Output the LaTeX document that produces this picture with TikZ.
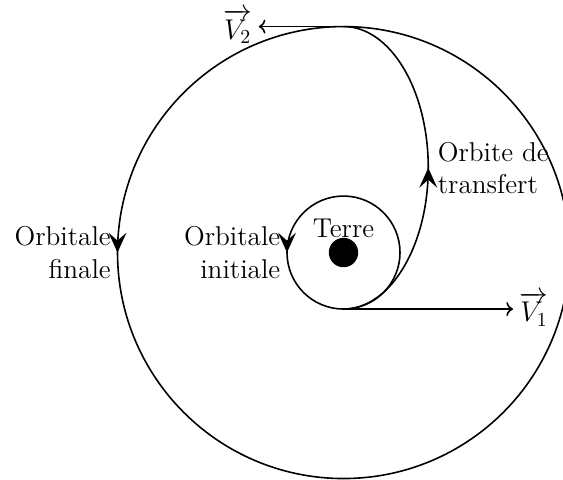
\documentclass[tikz,border=0pt]{standalone}
\usepackage{amsmath}
\usetikzlibrary{arrows.meta,decorations.markings,positioning}

\begin{document}
\begin{tikzpicture}[thick,
    orbite/.style={postaction={decorate},
      decoration={markings,mark=at position 0.5 with {\arrow{Stealth[length=10pt,width=9pt,inset=4pt]}}}},
    etiq/.style={font=\fontsize{13.7}{16.2}\selectfont,inner sep=3pt}]

    \useasboundingbox (-6.08,-4.01) rectangle (3.885,4.47);

    % Orbitales circulaires
    \foreach \r/\nom/\txt in {1/ini/{Orbitale\\initiale},4/fin/{Orbitale\\finale}}{
      \draw[orbite] (0,0) circle (\r);
      \node[etiq,align=right,anchor=east] (\nom) at (-\r,0) {\txt};
    }

    % Terre
    \node[circle,fill,minimum size=0.52cm,inner sep=0pt] (terre) at (0,0) {};
    \node[etiq] (nomterre) at (0,0.43) {Terre};

    % Orbite de transfert
    \draw[orbite] (0,-1) arc[start angle=-90,end angle=90,x radius=1.5,y radius=2.5];
    \node[etiq,align=left,anchor=west] (transf) at (1.55,1.5) {Orbite de\\transfert};

    % Vitesses
    \coordinate (peri) at (0,-1);
    \coordinate (apo) at (0,4);
    \node[etiq,anchor=west] (v1) at (3,-1) {$\overrightarrow{V_1}$};
    \node[etiq,anchor=east] (v2) at (-1.5,4) {$\overrightarrow{V_2}$};
    \draw[->] (peri) -- (v1);
    \draw[->] (apo) -- (v2);

\end{tikzpicture}
\end{document}
